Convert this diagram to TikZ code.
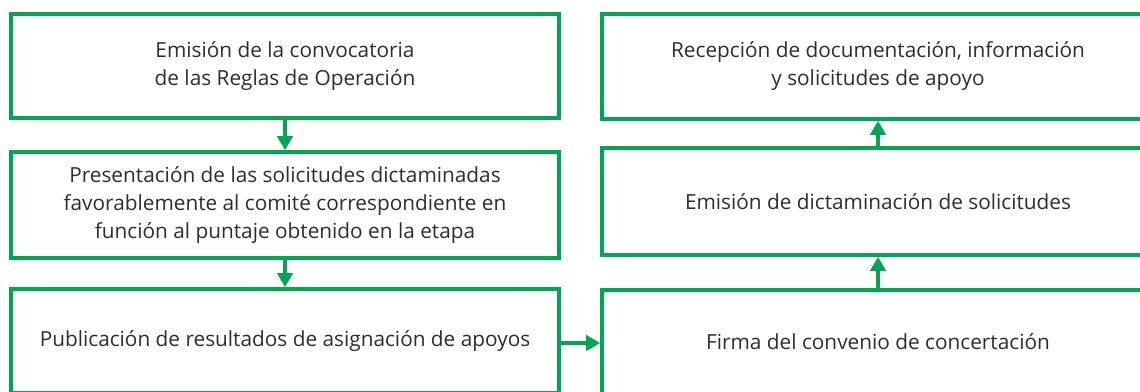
\documentclass[tikz,border=0pt]{standalone}
\usepackage{fontspec}
\setmainfont{Open Sans}
\usepackage{xcolor}
\usetikzlibrary{positioning,arrows.meta}
\definecolor{flowgreen}{RGB}{0,166,81}
\definecolor{txtgray}{RGB}{45,45,45}

\begin{document}
\begin{tikzpicture}[x=1pt,y=-1pt,
  stage/.style={draw=flowgreen, line width=3.6pt, minimum height=104pt, inner sep=0pt,
    align=center, text=txtgray, font=\fontsize{20.8}{28}\selectfont},
  leftstage/.style={stage, minimum width=548pt},
  rightstage/.style={stage, minimum width=552pt},
  flow/.style={draw=flowgreen, line width=3.6pt, -{Triangle[length=14pt,width=15pt]}}]
% page
\useasboundingbox (0,0) rectangle (1140,391);
% left column
\node[leftstage] (conv) at (285,66) {Emisión de la convocatoria\\de las Reglas de Operación};
\node[leftstage, minimum height=106pt] (pres) at (285,205) {Presentación de las solicitudes dictaminadas\\favorablemente al comité correspondiente en\\función al puntaje obtenido en la etapa};
\node[leftstage] (publ) at (285,341) {Publicación de resultados de asignación de apoyos};
% right column
\node[rightstage, minimum height=105pt] (recep) at (878,66.5) {Recepción de documentación, información\\y solicitudes de apoyo};
\node[rightstage, minimum height=107pt] (dict) at (878,201.5) {Emisión de dictaminación de solicitudes};
\node[rightstage] (firma) at (878,342) {Firma del convenio de concertación};
% arrows
\draw[flow] (conv) -- (pres);
\draw[flow] (pres) -- (publ);
\draw[flow] (publ.east |- 0,343) -- (firma.west |- 0,343);
\draw[flow] (firma) -- (dict);
\draw[flow] (dict) -- (recep);
\end{tikzpicture}
\end{document}
